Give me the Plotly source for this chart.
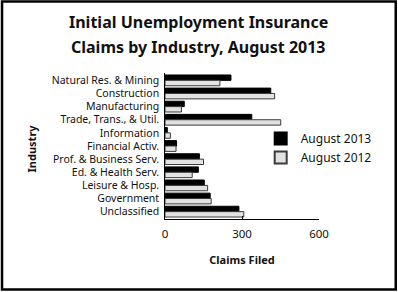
import plotly.graph_objects as go

categories = ["Natural Res. & Mining", "Construction", "Manufacturing",
              "Trade, Trans., & Util.", "Information", "Financial Activ.",
              "Prof. & Business Serv.", "Ed. & Health Serv.", "Leisure & Hosp.",
              "Government", "Unclassified"]
aug2013 = [257, 412, 75, 338, 9, 45, 134, 130, 153, 176, 288]
aug2012 = [214, 427, 64, 451, 21, 43, 150, 106, 166, 180, 307]
x_ticks = [0, 300, 600]

FONT = "Noto Sans"
L, R, T, B = 165, 319.5, 73, 219
W, H = 398, 292
pw, ph = R - L, B - T

def px(x):
    return (x - L) / pw

def py(y):
    return (B - y) / ph

fig = go.Figure()
fig.add_trace(go.Bar(y=categories, x=aug2013, orientation="h", name="August 2013",
                     marker=dict(color="#000000", line=dict(color="#000000", width=1))))
fig.add_trace(go.Bar(y=categories, x=aug2012, orientation="h", name="August 2012",
                     marker=dict(color="#e2e2e2", line=dict(color="#3a3a3a", width=1))))

fig.update_layout(
    width=W, height=H,
    margin=dict(l=L, r=W - R, t=T, b=H - B, autoexpand=False),
    paper_bgcolor="white", plot_bgcolor="white",
    barmode="group", bargap=0.18, bargroupgap=0.0,
    font=dict(family=FONT, size=10.5, color="#111"),
    showlegend=True,
    legend=dict(x=px(261), y=py(124), xanchor="left", yanchor="top",
                font=dict(family=FONT, size=12, color="#111"),
                bgcolor="rgba(0,0,0,0)", tracegroupgap=4, itemsizing="constant"),
    xaxis=dict(range=[0, 600], tickvals=x_ticks, ticktext=[str(v) for v in x_ticks],
               showgrid=False, zeroline=False, showline=True, linecolor="#000",
               linewidth=1, ticks="inside", ticklen=3, tickcolor="#000",
               ticklabelstandoff=4,
               tickfont=dict(family=FONT, size=11.5, color="#111"),
               title=dict(text="<b>Claims Filed</b>", font=dict(family=FONT, size=11, color="#111"),
                          standoff=16)),
    yaxis=dict(categoryorder="array", categoryarray=categories,
               range=[10.56, -0.56], showgrid=False, zeroline=False,
               showline=True, linecolor="#000", linewidth=1, ticks="",
               ticksuffix=" ", tickfont=dict(family=FONT, size=10.5, color="#111")),
    annotations=[
        dict(text="<b>Initial Unemployment Insurance</b>", x=px(199), y=py(22),
             xref="paper", yref="paper", showarrow=False, xanchor="center", yanchor="middle",
             font=dict(family=FONT, size=16, color="#111")),
        dict(text="<b>Claims by Industry, August 2013</b>", x=px(199), y=py(47),
             xref="paper", yref="paper", showarrow=False, xanchor="center", yanchor="middle",
             font=dict(family=FONT, size=16, color="#111")),
        dict(text="<b>Industry</b>", x=px(31), y=py(148), textangle=-90,
             xref="paper", yref="paper", showarrow=False, xanchor="center", yanchor="middle",
             font=dict(family=FONT, size=11, color="#111")),
    ],
    shapes=[
        dict(type="rect", xref="paper", yref="paper", x0=px(1.5), x1=px(396.5),
             y0=py(1.5), y1=py(289.5), line=dict(color="#000", width=2.5), layer="below"),
    ],
)

fig.write_html("out.html")
